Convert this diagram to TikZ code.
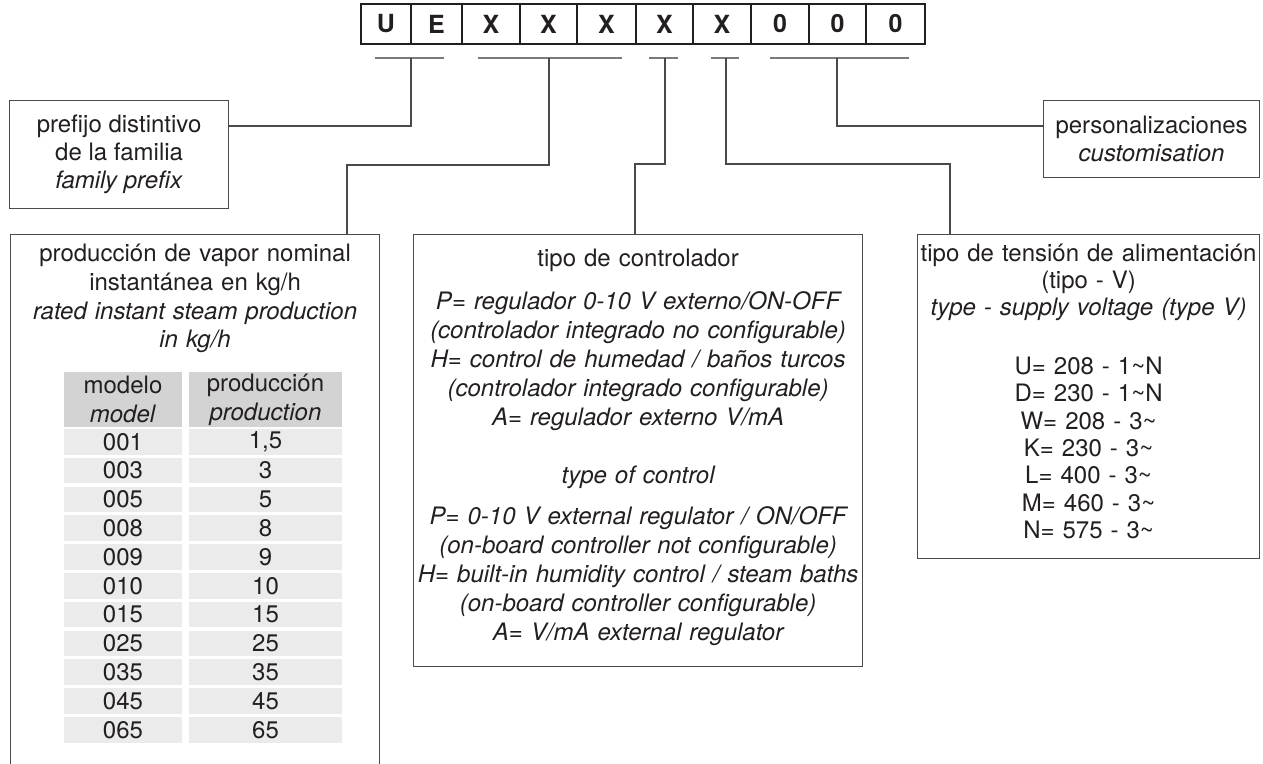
\documentclass[tikz,border=0pt]{standalone}
\usepackage{fontspec}
\setmainfont{TeX Gyre Heros}
\definecolor{ink}{HTML}{231F20}
\definecolor{wire}{HTML}{4A4A4A}
\definecolor{tickgray}{HTML}{7A7A7A}
\definecolor{headgray}{HTML}{D3D3D4}
\definecolor{rowgray}{HTML}{EBEBEB}
\tikzset{
    codecell/.style={draw=ink, line width=1.1pt, minimum height=20pt, inner sep=0,
        font=\fontsize{12.5}{14}\selectfont\bfseries},
    infobox/.style={draw=wire, line width=0.6pt, anchor=north west, inner sep=0},
    infotext/.style={anchor=north, align=center, inner sep=0},
    link/.style={draw=wire, line width=0.6pt},
    tick/.style={draw=tickgray, line width=0.8pt},
    cell/.style={inner sep=0, minimum height=12.75pt}
}
\begin{document}
\begin{tikzpicture}[x=0.5pt, y=-0.5pt, every node/.style={text=ink, font=\fontsize{12}{14.4}\selectfont}]
    \useasboundingbox (0,0) rectangle (1263,764);
    \clip (0,0) rectangle (1263,764);
    % code row
    \foreach \l/\r/\c [count=\i] in {361/411/U, 411/462/E, 462/520/X, 520/577/X, 577/636/X,
        636/693/X, 693/751/X, 751/809/0, 809/866/0, 866/925/0}
        \node[codecell, minimum width={(\r-\l)*0.5pt}] (c\i) at ({(\l+\r)/2},24) {\c};
    \foreach \a/\b in {375/444, 478/622, 649/678, 711/739, 770/909}
        \draw[tick] (\a,58) -- (\b,58);
    \coordinate (b1) at (411,58);
    \coordinate (b2) at (549,58);
    \coordinate (b3) at (665,58);
    \coordinate (b4) at (726,58);
    \coordinate (b5) at (837,58);
    % boxes
    \node[infobox, minimum width=109.5pt, minimum height=54pt, align=center,
        font=\fontsize{12}{14}\selectfont] (pre) at (9,100)
        {prefijo distintivo\\de la familia\\\textit{family prefix}};
    \node[infobox, minimum width=108pt, minimum height=38.5pt, align=center,
        font=\fontsize{12}{14}\selectfont] (cust) at (1043,100)
        {personalizaciones\\\textit{customisation}};
    \node[infobox, minimum width=184.5pt, minimum height=290pt] (prod) at (10,234) {};
    \node[infobox, minimum width=224.5pt, minimum height=216pt] (ctrl) at (413,234) {};
    \node[infobox, minimum width=171pt, minimum height=162pt] (volt) at (917,234) {};
    \node[infotext, text width=182pt, font=\fontsize{12}{14.35}\selectfont] (prodtxt) at (prod.north |- 0,244)
        {producción de vapor nominal\\instantánea en kg/h\\\itshape rated instant steam production\\in kg/h};
    \node[infotext, text width=240pt, font=\fontsize{12}{14.5}\selectfont] (ctrltxt) at (ctrl.north |- 0,249)
        {tipo de controlador\\[7pt]
        \itshape P= regulador 0-10 V externo/ON-OFF\\
        (controlador integrado no configurable)\\
        H= control de humedad / baños turcos\\
        (controlador integrado configurable)\\
        A= regulador externo V/mA\\[14.5pt]
        type of control\\[6pt]
        P= 0-10 V external regulator / ON/OFF\\
        (on-board controller not configurable)\\
        H= built-in humidity control / steam baths\\
        (on-board controller configurable)\\
        A= V/mA external regulator};
    \node[infotext, text width=200pt, font=\fontsize{12}{13.4}\selectfont] (volttxt) at (volt.north |- 0,244)
        {tipo de tensión de alimentación\\(tipo - V)\\\textit{type - supply voltage (type V)}\\[16pt]
        U= 208 - 1\textasciitilde N\\[0.3pt]
        D= 230 - 1\textasciitilde N\\[0.3pt]
        W= 208 - 3\textasciitilde\\[0.3pt]
        K= 230 - 3\textasciitilde\\[0.3pt]
        L= 400 - 3\textasciitilde\\[0.3pt]
        M= 460 - 3\textasciitilde\\[0.3pt]
        N= 575 - 3\textasciitilde};
    % table
    \node[cell, fill=headgray, minimum width=59pt, minimum height=27.5pt, align=center] (mhead) at (123,399.5)
        {modelo\\\textit{model}};
    \node[cell, fill=headgray, minimum width=76.5pt, minimum height=27.5pt, align=center] (phead) at (265.5,399.5)
        {producción\\\textit{production}};
    \foreach \m/\p [count=\i from 0] in {001/{1,5}, 003/3, 005/5, 008/8, 009/9, 010/10,
        015/15, 025/25, 035/35, 045/45, 065/65} {
        \node[cell, fill=rowgray, minimum width=59pt] (m\i) at (123,{441.75+28.8*\i}) {\m};
        \node[cell, fill=rowgray, minimum width=76.5pt] (p\i) at (265.5,{441.75+28.8*\i}) {\p};
    }
    % connectors
    \coordinate (j1) at (411,126);
    \coordinate (j2) at (347,165);
    \coordinate (j3) at (635,164);
    \coordinate (j4) at (950,164);
    \coordinate (j5) at (837,126);
    \draw[link] (b1) -- (j1) -- (pre.east |- j1);
    \draw[link] (b2) |- (j2) -- (prod.north -| j2);
    \draw[link] (b3) |- (j3) -- (ctrl.north -| j3);
    \draw[link] (b4) |- (j4) -- (volt.north -| j4);
    \draw[link] (b5) -- (j5) -- (cust.west |- j5);
\end{tikzpicture}
\end{document}
